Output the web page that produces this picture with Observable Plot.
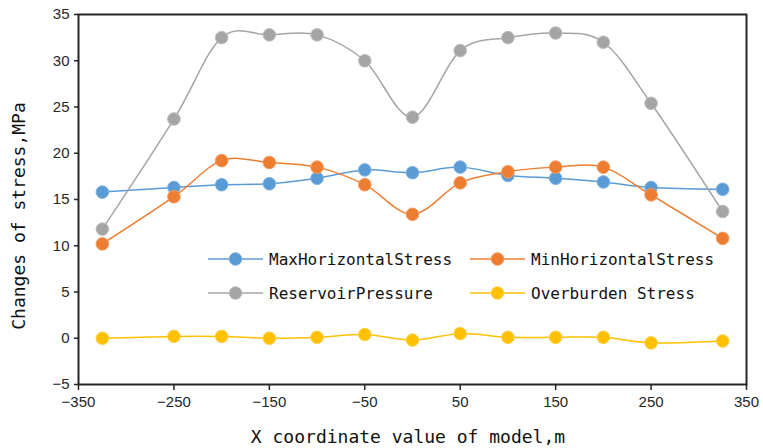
<!DOCTYPE html>
<html>
<head>
<meta charset="utf-8">
<script src="https://cdn.jsdelivr.net/npm/d3@7"></script>
<script src="https://cdn.jsdelivr.net/npm/@observablehq/plot@0.6"></script>
<style>
  html, body { margin: 0; padding: 0; background: #fff; }
  #chart svg { display: block; }
</style>
</head>
<body>
<div id="chart"></div>
<script>
// Position along the model (m)
const xPositions = [-325, -250, -200, -150, -100, -50, 0, 50, 100, 150, 200, 250, 325];

// Stress changes (MPa) for each series
const maxHorizontalStress = [15.8, 16.3, 16.6, 16.7, 17.3, 18.2, 17.9, 18.5, 17.6, 17.3, 16.9, 16.3, 16.1];
const minHorizontalStress = [10.2, 15.3, 19.2, 19.0, 18.5, 16.6, 13.4, 16.8, 18.0, 18.5, 18.5, 15.5, 10.8];
const reservoirPressure   = [11.8, 23.7, 32.5, 32.8, 32.8, 30.0, 23.9, 31.1, 32.5, 33.0, 32.0, 25.4, 13.7];
const overburdenStress    = [0.0, 0.2, 0.2, 0.0, 0.1, 0.4, -0.2, 0.5, 0.1, 0.1, 0.1, -0.5, -0.3];

const seriesNames = ["MaxHorizontalStress", "MinHorizontalStress", "ReservoirPressure", "Overburden Stress"];
const seriesValues = [maxHorizontalStress, minHorizontalStress, reservoirPressure, overburdenStress];
const seriesColors = ["#5B9BD5", "#ED7D31", "#A5A5A5", "#FFC000"];
const markerEdges  = ["#7DB1E0", "#F29A5E", "#BDBDBD", "#FFD04D"];

const xTicks = d3.range(-350, 351, 100);
const yTicks = d3.range(-5, 36, 5);

const rows = seriesNames.flatMap((name, i) =>
  xPositions.map((x, j) => ({series: name, x, value: seriesValues[i][j]}))
);

const colorScale = {domain: seriesNames, range: seriesColors};
const edgeOf = Object.fromEntries(seriesNames.map((n, i) => [n, markerEdges[i]]));

const chart = Plot.plot({
  width: 763,
  height: 448,
  marginTop: 14,
  marginRight: 17,
  marginBottom: 64,
  marginLeft: 78,
  style: {fontFamily: "'Liberation Sans', Arial, sans-serif", fontSize: "15px", color: "#262626"},
  x: {domain: [-350, 350], ticks: xTicks, label: null, tickSize: 6, tickPadding: 6},
  y: {domain: [-5, 35], ticks: yTicks, label: null, tickSize: 4, tickPadding: 5},
  color: colorScale,
  marks: [
    Plot.frame({stroke: "#262626", strokeWidth: 2}),
    Plot.axisX({ticks: xTicks, tickSize: 6, tickPadding: 6, label: null, stroke: "#262626", strokeWidth: 1.5, fontSize: 15}),
    Plot.axisY({ticks: yTicks, tickSize: 4, tickPadding: 5, label: null, stroke: "#262626", strokeWidth: 1.5, fontSize: 15}),
    Plot.line(rows, {x: "x", y: "value", z: "series", stroke: "series", strokeWidth: 1.5, curve: "cardinal"}),
    Plot.dot(rows, {x: "x", y: "value", fill: "series", stroke: d => edgeOf[d.series], strokeWidth: 1, r: 6.3})
  ]
});

// Axis titles and the in-plot legend
const svg = d3.select(chart);
const mono = "'DejaVu Sans Mono', 'Liberation Mono', monospace";

svg.append("text")
  .attr("x", 408).attr("y", 443)
  .attr("text-anchor", "middle")
  .attr("font-family", mono).attr("font-size", 18).attr("fill", "#111")
  .text("X coordinate value of model,m");

svg.append("text")
  .attr("transform", "translate(25,216) rotate(-90)")
  .attr("text-anchor", "middle")
  .attr("font-family", mono).attr("font-size", 18).attr("fill", "#111")
  .text("Changes of stress,MPa");

const legendPos = [
  {x: 208, y: 259}, {x: 470, y: 259},
  {x: 208, y: 293}, {x: 470, y: 293}
];
const legend = svg.append("g").attr("text-anchor", "start");
seriesNames.forEach((name, i) => {
  const p = legendPos[i];
  const g = legend.append("g").attr("transform", `translate(${p.x},${p.y})`);
  g.append("line").attr("x1", 0).attr("x2", 55).attr("y1", 0).attr("y2", 0)
    .attr("stroke", seriesColors[i]).attr("stroke-width", 1.5);
  g.append("circle").attr("cx", 27.5).attr("cy", 0).attr("r", 6.3)
    .attr("fill", seriesColors[i]).attr("stroke", markerEdges[i]);
  g.append("text").attr("x", 61).attr("y", 0).attr("dy", "0.35em")
    .attr("text-anchor", "start")
    .attr("font-family", mono).attr("font-size", 16).attr("fill", "#111")
    .text(name);
});

document.getElementById("chart").appendChild(chart);
</script>
</body>
</html>
